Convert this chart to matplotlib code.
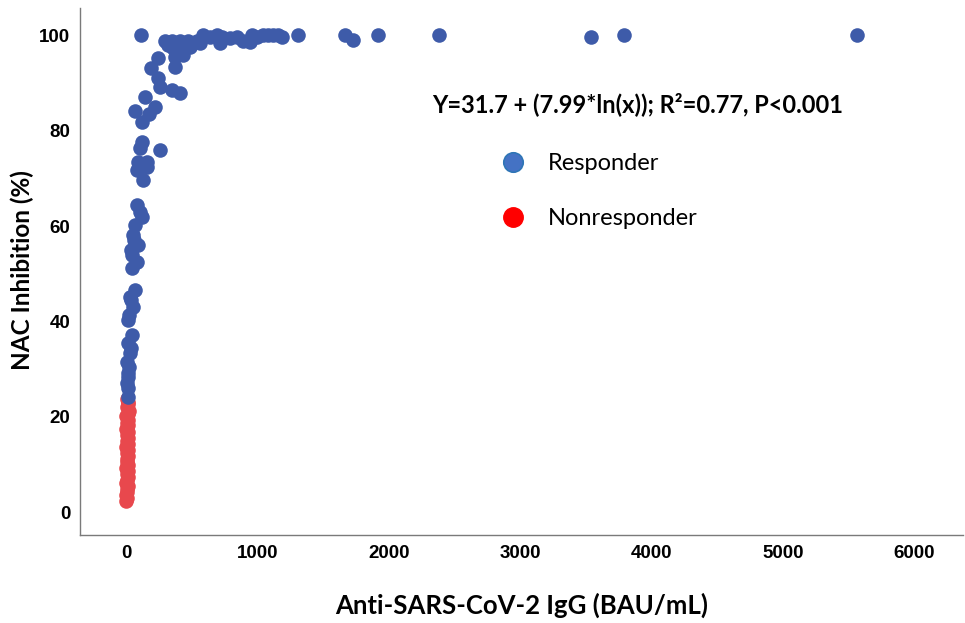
import numpy as np
import matplotlib
matplotlib.use("Agg")
import matplotlib.pyplot as plt
from matplotlib.lines import Line2D

# responders (IgG BAU/mL, NAC inhibition %)
resp_x = [114, 296, 349, 410, 471, 539, 585, 357, 425, 372, 433, 372, 243, 190,
          243, 258, 349, 410, 144, 220, 68, 121, 175, 121, 106, 258, 91, 159, 84,
          159, 129, 84, 121, 53, 91, 46, 84, 46, 68, 30, 53, 15, 46, 15, 30, 8, 15,
          8, 15, 23, 38, 23, 15, 15, 38, 319, 486, 395, 68, 106, 61, 38,
          562, 638, 691, 729, 714, 790, 843, 888, 942, 957, 995, 1040, 1078, 1116,
          1154, 1185, 1306, 1663, 1731, 1921, 2384, 3538, 3789, 5560]
resp_y = [100.0, 98.9, 98.9, 98.9, 98.9, 98.9, 100.0, 97.3, 96.9, 95.4, 95.8, 93.3,
          95.2, 93.1, 91.0, 89.1, 88.5, 87.8, 87.0, 84.9, 84.1, 81.8, 83.6, 77.6,
          76.3, 75.9, 73.4, 73.4, 71.7, 72.3, 69.6, 64.4, 61.8, 58.1, 56.0, 53.9,
          52.4, 51.2, 46.5, 45.1, 43.0, 40.3, 37.1, 35.4, 33.3, 31.4, 29.1, 27.0,
          24.1, 41.3, 34.4, 30.4, 28.3, 26.0, 44.4, 97.9, 97.5, 98.1, 60.2, 62.9,
          57.0, 54.9,
          98.3, 99.6, 100.0, 99.6, 98.3, 99.4, 99.6, 98.9, 98.5, 100.0, 99.6, 100.0,
          100.0, 100.0, 100.0, 99.6, 100.0, 100.0, 99.0, 100.0, 100.0, 99.6, 100.0,
          100.0]

# nonresponders
non_x = [4, 8, 2, 11, 6, 14, 3, 10, 16, 7, 12, 1, 17, 9, 5, 13, 11, 18, 3, 12,
         8, 15, 6, 19, 2, 14, 10, 17, 4, 13, 20, 9, 12, 16, 6]
non_y = [2.3, 3.0, 3.6, 4.2, 4.9, 5.5, 6.1, 6.8, 7.4, 8.0, 8.7, 9.3, 9.9, 10.6,
         11.2, 11.8, 12.5, 13.1, 13.7, 14.4, 15.0, 15.6, 16.3, 16.9, 17.5, 18.2,
         18.8, 19.4, 20.1, 20.7, 21.3, 22.0, 22.6, 23.2, 23.7]

x_ticks = [0, 1000, 2000, 3000, 4000, 5000, 6000]
y_ticks = [0, 20, 40, 60, 80, 100]

fig = plt.figure(figsize=(9.65, 6.23), dpi=100)
ax = fig.add_axes([0.083, 0.141, 0.915, 0.846])

ax.scatter(non_x, non_y, s=110, color="#E8484D", linewidths=0, zorder=2)
ax.scatter(resp_x, resp_y, s=110, color="#3E5BA9", linewidths=0, zorder=3)

ax.set_xlim(-349, 6370)
ax.set_ylim(-4.8, 105.7)
ax.set_xticks(x_ticks)
ax.set_yticks(y_ticks)
ax.tick_params(length=0, pad=7)
for lab in ax.get_xticklabels() + ax.get_yticklabels():
    lab.set_fontfamily("Liberation Sans")
    lab.set_fontweight("bold")
    lab.set_fontsize(13.5)

for s in ["top", "right"]:
    ax.spines[s].set_visible(False)
for s in ["left", "bottom"]:
    ax.spines[s].set_color("#7a7a7a")
    ax.spines[s].set_linewidth(1.0)

ax.set_xlabel("Anti-SARS-CoV-2 IgG (BAU/mL)", fontfamily="Lato", fontweight="bold",
              fontsize=18.5, labelpad=22)
ax.set_ylabel("NAC Inhibition (%)", fontfamily="Lato", fontweight="bold",
              fontsize=17.5, va="center")
ax.yaxis.set_label_coords(-0.066, 0.503)

fig.text(0.4475, 0.833, "Y=31.7 + (7.99*ln(x)); R²=0.77, P<0.001", fontfamily="Lato",
         fontweight="bold", fontsize=17, va="center", ha="left")

handles = [
    Line2D([], [], marker="o", linestyle="none", markersize=14,
           markerfacecolor="#4472C4", markeredgecolor="#2E75B6", markeredgewidth=1.2),
    Line2D([], [], marker="o", linestyle="none", markersize=14,
           markerfacecolor="#FF0000", markeredgecolor="#FF0000"),
]
ax.legend(handles, ["Responder", "Nonresponder"], loc="upper left",
          bbox_to_anchor=(0.439, 0.765), frameon=False, prop={"family": "Lato", "size": 17},
          labelspacing=1.43, handletextpad=0.5)

fig.savefig("out.png", dpi=100)
